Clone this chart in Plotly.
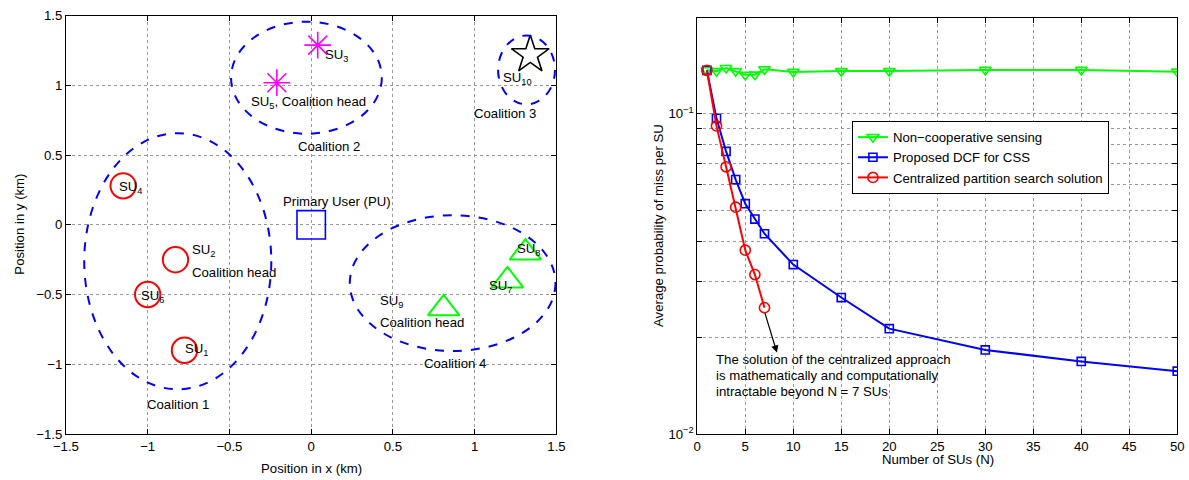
import math
import plotly.graph_objects as go

# ---------------- Left panel data (positions in km) ----------------
c1_names = ["SU1", "SU2", "SU6", "SU4"]
c1_x = [-0.775, -0.83, -1.0, -1.15]
c1_y = [-0.90, -0.25, -0.50, 0.28]

c2_names = ["SU3", "SU5"]
c2_x = [0.04, -0.21]
c2_y = [1.29, 1.02]

c3_names = ["SU10"]
c3_x = [1.34]
c3_y = [1.22]

c4_names = ["SU7", "SU8", "SU9"]
c4_x = [1.20, 1.31, 0.81]
c4_y = [-0.40, -0.20, -0.60]

pu_x = [0.0]
pu_y = [0.0]

# coalition ellipses: center x, center y, half-width, half-height
ell_cx = [-0.816, -0.029, 1.317, 0.865]
ell_cy = [-0.261, 1.056, 1.112, -0.418]
ell_a = [0.572, 0.461, 0.174, 0.629]
ell_b = [0.919, 0.402, 0.247, 0.487]

left_labels = [
    ("SU<sub>4</sub>", -1.189, 0.265, "left"),
    ("SU<sub>2</sub>", -0.743, -0.185, "left"),
    ("Coalition head", -0.743, -0.341, "left"),
    ("SU<sub>6</sub>", -1.054, -0.513, "left"),
    ("SU<sub>1</sub>", -0.786, -0.892, "left"),
    ("Coalition 1", -0.816, -1.288, "center"),
    ("Primary User (PU)", 0.157, 0.165, "center"),
    ("SU<sub>5</sub>, Coalition head", -0.379, 0.879, "left"),
    ("SU<sub>3</sub>", 0.073, 1.217, "left"),
    ("Coalition 2", 0.111, 0.56, "center"),
    ("SU<sub>10</sub>", 1.159, 1.053, "left"),
    ("Coalition 3", 1.185, 0.797, "center"),
    ("SU<sub>9</sub>", 0.408, -0.55, "left"),
    ("Coalition head", 0.408, -0.70, "left"),
    ("SU<sub>7</sub>", 1.078, -0.44, "left"),
    ("SU<sub>8</sub>", 1.247, -0.174, "left"),
    ("Coalition 4", 0.878, -0.994, "center"),
]

left_ticks = [-1.5, -1, -0.5, 0, 0.5, 1, 1.5]

# ---------------- Right panel data ----------------
n_noncoop = [1, 2, 3, 4, 5, 6, 7, 10, 15, 20, 30, 40, 50]
p_noncoop = [0.1368, 0.1360, 0.1391, 0.1360, 0.1324, 0.1326, 0.1378,
             0.1352, 0.1360, 0.1360, 0.1372, 0.1372, 0.1355]

n_dcf = [1, 2, 3, 4, 5, 6, 7, 10, 15, 20, 30, 40, 50]
p_dcf = [0.1368, 0.0968, 0.0763, 0.0623, 0.0524, 0.0469, 0.0422,
         0.0338, 0.02667, 0.02132, 0.01829, 0.01684, 0.0157]

n_central = [1, 2, 3, 4, 5, 6, 7]
p_central = [0.1368, 0.0917, 0.0683, 0.0511, 0.0375, 0.03146, 0.0248]

right_xticks = [0, 5, 10, 15, 20, 25, 30, 35, 40, 45, 50]
right_yticks = [0.01, 0.02, 0.03, 0.04, 0.05, 0.06, 0.07, 0.08, 0.09, 0.1, 0.2]
right_yticktext = ["10<sup>\u22122</sup>", "", "", "", "", "", "", "", "", "10<sup>\u22121</sup>", ""]

note_lines = ["The solution of the centralized approach",
              "is mathematically and computationally",
              "intractable beyond N = 7 SUs"]

FONT = "Liberation Sans, Arial, Helvetica, sans-serif"
W, H = 1189, 480
# the captured page appears slightly shrunk (fit to height, centred horizontally);
# pre-compensate the layout positions
S = 0.9856
CX = W / 2
FS = round(13 / S, 1)

def px_x(p):
    return (CX + (p - CX) / S) / W

def px_y(p):
    return 1 - (p / S) / H

def ms(v):
    return v / S

fig = go.Figure()

fig.add_trace(go.Scatter(x=c1_x, y=c1_y, mode="markers", xaxis="x", yaxis="y",
                         marker=dict(symbol="circle-open", size=ms(25), color="#ff0000",
                                     line=dict(width=2, color="#ff0000")),
                         showlegend=False, hovertext=c1_names))
fig.add_trace(go.Scatter(x=c2_x, y=c2_y, mode="markers", xaxis="x", yaxis="y",
                         marker=dict(symbol="asterisk-open", size=ms(22), color="#ff00ff",
                                     line=dict(width=1.6, color="#ff00ff")),
                         showlegend=False, hovertext=c2_names))
fig.add_trace(go.Scatter(x=c3_x, y=c3_y, mode="markers", xaxis="x", yaxis="y",
                         marker=dict(symbol="star-open", size=ms(28), color="#000000",
                                     line=dict(width=1.6, color="#000000")),
                         showlegend=False, hovertext=c3_names))
fig.add_trace(go.Scatter(x=c4_x, y=c4_y, mode="markers", xaxis="x", yaxis="y",
                         marker=dict(symbol="triangle-up-open", size=ms(27), color="#00ff00",
                                     line=dict(width=2, color="#00ff00")),
                         showlegend=False, hovertext=c4_names))
fig.add_trace(go.Scatter(x=pu_x, y=pu_y, mode="markers", xaxis="x", yaxis="y",
                         marker=dict(symbol="square-open", size=ms(28), color="#0000ff",
                                     line=dict(width=1.6, color="#0000ff")),
                         showlegend=False))

shapes = []
for cx, cy, a, b in zip(ell_cx, ell_cy, ell_a, ell_b):
    shapes.append(dict(type="circle", xref="x", yref="y",
                       x0=cx - a, x1=cx + a, y0=cy - b, y1=cy + b,
                       line=dict(color="#0000ff", width=2, dash="dash")))

annotations = []
for txt, x, y, xa in left_labels:
    annotations.append(dict(text=txt, x=x, y=y, xref="x", yref="y", showarrow=False,
                            xanchor=xa, yanchor="middle",
                            font=dict(size=FS, color="#000", family=FONT)))

fig.add_trace(go.Scatter(x=n_noncoop, y=p_noncoop, mode="lines+markers", xaxis="x2", yaxis="y2",
                         name="Non\u2212cooperative sensing",
                         line=dict(color="#00ff00", width=2),
                         marker=dict(symbol="triangle-down-open", size=ms(10), color="#00ff00",
                                     line=dict(width=1.6, color="#00ff00"))))
fig.add_trace(go.Scatter(x=n_dcf, y=p_dcf, mode="lines+markers", xaxis="x2", yaxis="y2",
                         name="Proposed DCF for CSS",
                         line=dict(color="#0000ff", width=2),
                         marker=dict(symbol="square-open", size=ms(8), color="#0000ff",
                                     line=dict(width=1.6, color="#0000ff"))))
fig.add_trace(go.Scatter(x=n_central, y=p_central, mode="lines+markers", xaxis="x2", yaxis="y2",
                         name="Centralized partition search solution",
                         line=dict(color="#ff0000", width=2),
                         marker=dict(symbol="circle-open", size=ms(10), color="#ff0000",
                                     line=dict(width=1.6, color="#ff0000"))))

annotations.append(dict(x=8.3, y=math.log10(0.01795), ax=n_central[-1], ay=math.log10(0.0241),
                        xref="x2", yref="y2", axref="x2", ayref="y2", text="",
                        showarrow=True, arrowhead=2, arrowsize=1.2, arrowwidth=1.2,
                        arrowcolor="#000"))
for i, line in enumerate(note_lines):
    annotations.append(dict(text=line, xref="x2", yref="paper", x=1.76,
                            y=px_y(359 + 16 * i), showarrow=False,
                            xanchor="left", yanchor="middle",
                            font=dict(size=FS, color="#000", family=FONT)))

annotations.append(dict(text="Position in x (km)", xref="paper", yref="paper",
                        x=px_x(308), y=px_y(470), showarrow=False, xanchor="center", yanchor="middle",
                        font=dict(size=FS, color="#000", family=FONT)))
annotations.append(dict(text="Position in y (km)", xref="paper", yref="paper",
                        x=px_x(15), y=px_y(221), showarrow=False, xanchor="center", yanchor="middle",
                        textangle=-90, font=dict(size=FS, color="#000", family=FONT)))
annotations.append(dict(text="Number of SUs (N)", xref="paper", yref="paper",
                        x=px_x(937), y=px_y(460), showarrow=False, xanchor="center", yanchor="middle",
                        font=dict(size=FS, color="#000", family=FONT)))
annotations.append(dict(text="Average probability of miss per SU", xref="paper", yref="paper",
                        x=px_x(656), y=px_y(222), showarrow=False, xanchor="center", yanchor="middle",
                        textangle=-90, font=dict(size=FS, color="#000", family=FONT)))

axis_common = dict(showline=True, linecolor="#000", linewidth=1, mirror="ticks",
                   ticks="inside", ticklen=5, tickcolor="#000",
                   showgrid=True, gridcolor="#999", griddash="dot", gridwidth=1,
                   zeroline=False, tickfont=dict(size=FS, color="#000", family=FONT))

fig.update_layout(
    width=W, height=H,
    margin=dict(l=0, r=0, t=0, b=0),
    paper_bgcolor="white", plot_bgcolor="white",
    font=dict(family=FONT, size=FS, color="#000"),
    xaxis=dict(domain=[px_x(61.7), px_x(554.3)], range=[-1.5, 1.5],
               tickmode="array", tickvals=left_ticks, anchor="y", **axis_common),
    yaxis=dict(domain=[px_y(434.3), px_y(9)], range=[-1.5, 1.5],
               tickmode="array", tickvals=left_ticks, anchor="x", **axis_common),
    xaxis2=dict(domain=[px_x(695.7), px_x(1177.7)], range=[0, 50],
                tickmode="array", tickvals=right_xticks, anchor="y2", **axis_common),
    yaxis2=dict(domain=[px_y(434.3), px_y(10.7)], type="log",
                range=[math.log10(0.01), math.log10(0.2)],
                tickmode="array", tickvals=right_yticks, ticktext=right_yticktext,
                anchor="x2", **axis_common),
    shapes=shapes,
    annotations=annotations,
    showlegend=True,
    legend=dict(x=px_x(851), y=px_y(116), xanchor="left", yanchor="top",
                bgcolor="white", bordercolor="#000", borderwidth=1,
                font=dict(size=FS, color="#000", family=FONT),
                tracegroupgap=0),
)

page_fix = (
    "var d=document.documentElement,b=document.body;"
    "d.style.margin='0';d.style.padding='0';d.style.overflow='hidden';"
    "b.style.margin='0';b.style.padding='0';b.style.overflow='hidden';"
)
fig.write_html("out.html", config={"displayModeBar": False}, post_script=page_fix)
